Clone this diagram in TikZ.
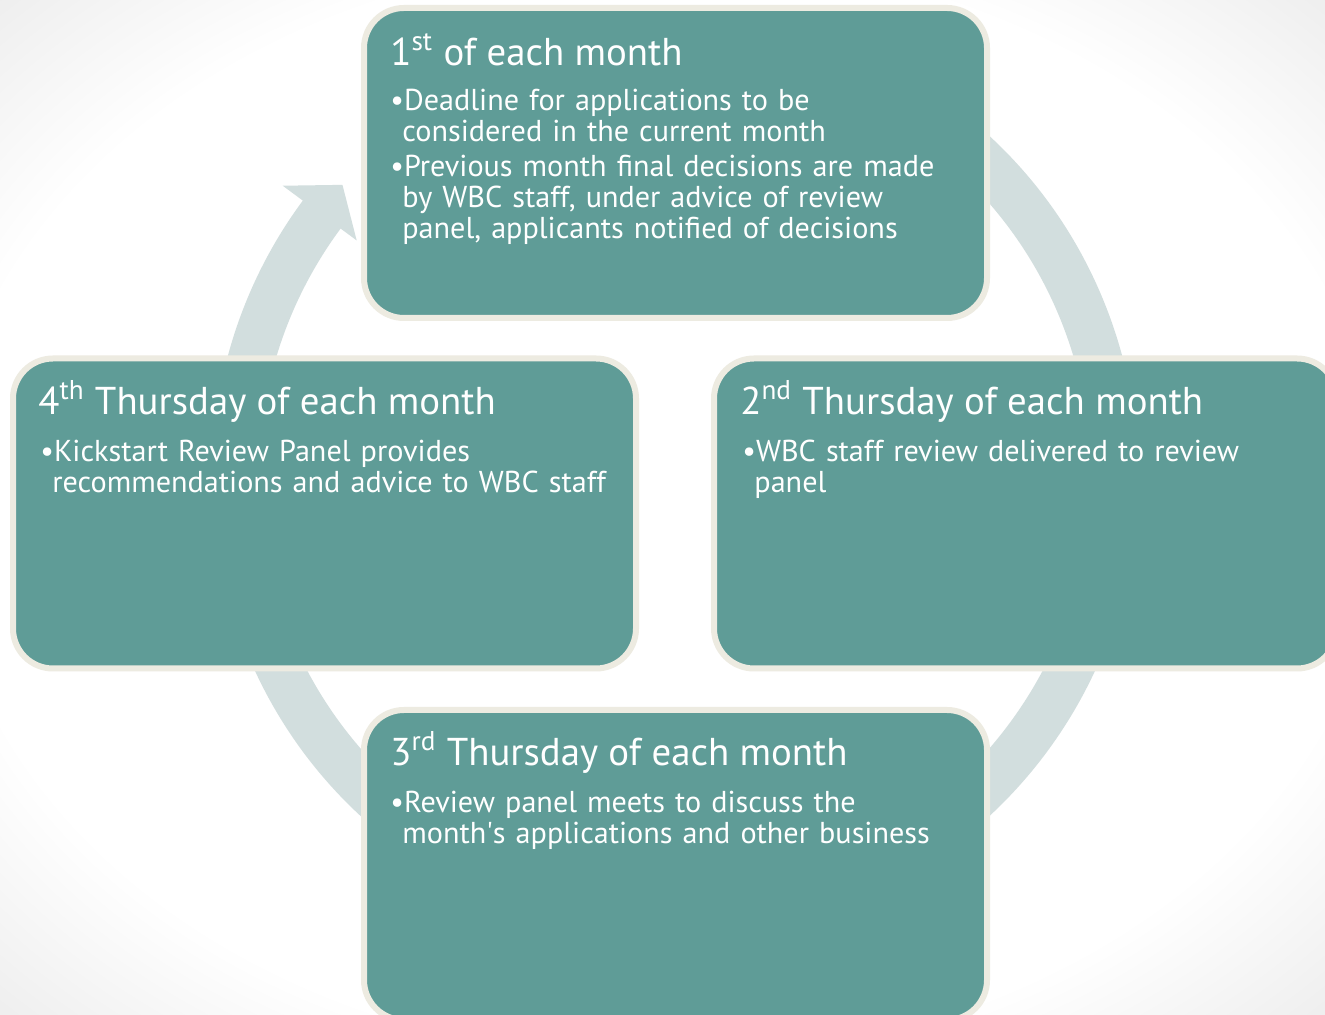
\documentclass[tikz,border=0pt]{standalone}
\usepackage{fontspec}
\setmainfont{PT Sans}
\usetikzlibrary{shadings}

\definecolor{StageFill}{RGB}{95,156,151}
\definecolor{StageEdge}{RGB}{237,235,225}
\definecolor{RingFill}{RGB}{210,222,222}
\pgfdeclareradialshading{Paper}{\pgfpoint{0bp}{0bp}}{color(0bp)=(white); color(27bp)=(white); color(36bp)=(black!7); color(50bp)=(black!7)}

\begin{document}
\begin{tikzpicture}[x=0.5pt, y=0.5pt]
			\tikzstyle{Stage} 	= [rectangle, draw=StageEdge, fill=StageFill, line width=3pt, rounded corners=20pt, minimum width=311.5pt, minimum height=155pt, inner sep=0pt]
			\tikzstyle{Heading}	= [anchor=base west, inner sep=0pt, text=white, font=\fontsize{19.4}{24}\selectfont]
			\tikzstyle{Body}	= [anchor=base west, inner sep=0pt, text=white, text width=320pt, align=left, font=\fontsize{15.1}{15.5}\selectfont]

			\path[use as bounding box, clip] (0,0) rectangle (1325,1015);
			\shade[shading=Paper] (0,0) rectangle (1325,1015);

			% ring arrow behind the stages
			\fill[RingFill, shift={(675,539)}] (110:463) arc[start angle=110, end angle=-216.5, radius=463]
				-- (-216.5:488) -- (-221.2:442) -- (-216.5:396) -- (-216.5:416)
				arc[start angle=-216.5, end angle=110, radius=416] -- cycle;

			\node (s1) at (675.5, 852) [Stage] {};
			\node (s2) at (1025.5, 501.5) [Stage] {};
			\node (s3) at (675.5, 150) [Stage] {};
			\node (s4) at (324.5, 501.5) [Stage] {};

			\node (h1) at (390, 949) [Heading] {1\textsuperscript{st} of each month};
			\node (b1) at (390, 904) [Body] {•Deadline for applications to be\\\hspace*{6pt}considered in the current month\\[2pt]•Previous month final decisions are made\\\hspace*{6pt}by WBC staff, under advice of review\\\hspace*{6pt}panel, applicants notified of decisions};
			\node (h2) at (740, 600) [Heading] {2\textsuperscript{nd} Thursday of each month};
			\node (b2) at (742, 553) [Body] {•WBC staff review delivered to review\\\hspace*{6pt}panel};
			\node (h3) at (390, 249) [Heading] {3\textsuperscript{rd} Thursday of each month};
			\node (b3) at (390, 202) [Body] {•Review panel meets to discuss the\\\hspace*{6pt}month\textquotesingle s applications and other business};
			\node (h4) at (38, 600) [Heading] {4\textsuperscript{th} Thursday of each month};
			\node (b4) at (40, 553) [Body] {•Kickstart Review Panel provides\\\hspace*{6pt}recommendations and advice to WBC staff};
		\end{tikzpicture}
\end{document}
